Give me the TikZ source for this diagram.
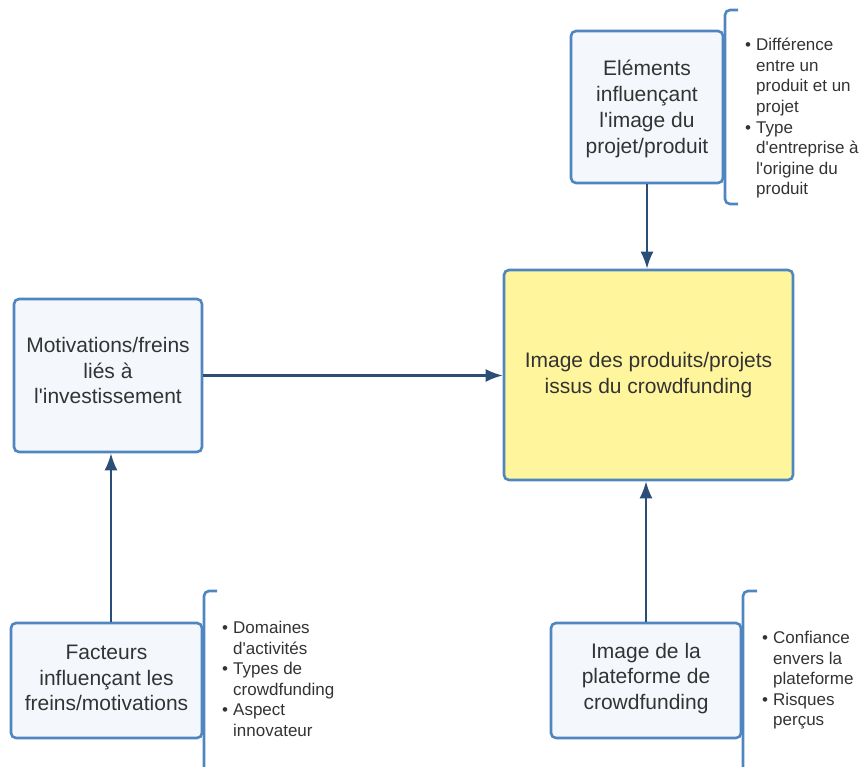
\documentclass[tikz,border=0pt]{standalone}
\usepackage{fontspec}
\defaultfontfeatures[\rmfamily,\sffamily]{}
\setmainfont{Liberation Sans}
\usetikzlibrary{arrows.meta}
\definecolor{boxline}{HTML}{4F86C0}
\definecolor{boxfill}{HTML}{F4F8FD}
\definecolor{mainfill}{HTML}{FFF59D}
\definecolor{arrowcol}{HTML}{2A4E78}
\definecolor{txt}{HTML}{333333}
\tikzset{
  box/.style={draw=boxline, fill=boxfill, line width=2.6pt, rounded corners=5pt,
    align=center, text=txt, inner sep=0pt, font=\fontsize{21}{25.8}\selectfont},
  mainbox/.style={box, fill=mainfill},
  boxtext/.style={align=center, text=txt, inner sep=0pt, font=\fontsize{21}{25.8}\selectfont},
  conn/.style={draw=arrowcol, line width=2.1pt, -{Latex[length=17pt,width=13pt]}},
  brace/.style={draw=boxline, line width=2.6pt, rounded corners=5pt},
  bullets/.style={anchor=north west, inner sep=0pt, text=txt, align=left,
    font=\fontsize{17}{20.6}\selectfont}
}
\newcommand{\bl}{\makebox[11pt][l]{•}}
\newcommand{\ind}{\hspace*{11pt}}
\newcommand{\q}{\textquotesingle}
\begin{document}
\begin{tikzpicture}[x=1pt,y=-1pt]
\useasboundingbox (0,0) rectangle (861,767);
% boxes
\node[box, minimum width=152pt, minimum height=152pt] (elem) at (647,107) {};
\node[boxtext] (elemtext) at ([yshift=-2pt]elem.center)
  {Eléments\\influençant\\l\q image du\\projet/produit};
\node[mainbox, minimum width=289pt, minimum height=210pt] (main) at (648.5,375)
  {Image des produits/projets\\issus du crowdfunding};
\node[box, minimum width=188pt, minimum height=153pt] (mot) at (108,375.5) {};
\node[boxtext] (mottext) at ([yshift=5pt]mot.center)
  {Motivations/freins\\liés à\\l\q investissement};
\node[box, minimum width=191pt, minimum height=115pt] (fac) at (106.5,680.5) {};
\node[boxtext] (factext) at ([yshift=2.5pt]fac.center)
  {Facteurs\\influençant les\\freins/motivations};
\node[box, minimum width=190pt, minimum height=115pt] (plat) at (646,680.5) {};
\node[boxtext] (plattext) at ([yshift=2pt]plat.center)
  {Image de la\\plateforme de\\crowdfunding};
% connectors
\draw[conn] ([xshift=4.5pt]fac.north) -- ([xshift=4.5pt]fac.north |- mot.south);
\draw[conn] (elem.south) -- (elem.south |- main.north);
\draw[conn] (mot.east) -- (mot.east -| main.west);
\draw[conn] (plat.north) -- (plat.north |- main.south);
% brackets
\draw[brace] (738,10) -- (725,10) -- (725,204) -- (738,204);
\draw[brace] (217,591) -- (204,591) -- (204,772);
\draw[brace] (757,591) -- (743,591) -- (743,772);
% bullet texts
\node[bullets] (eb) at (745,38) {\bl Différence\\\ind entre un\\\ind produit et un\\\ind projet\\\bl Type\\\ind d\q entreprise à\\\ind l\q origine du\\\ind produit};
\node[bullets] (fb) at (222,621) {\bl Domaines\\\ind d\q activités\\\bl Types de\\\ind crowdfunding\\\bl Aspect\\\ind innovateur};
\node[bullets] (pb) at (762,631) {\bl Confiance\\\ind envers la\\\ind plateforme\\\bl Risques\\\ind perçus};
\end{tikzpicture}
\end{document}
